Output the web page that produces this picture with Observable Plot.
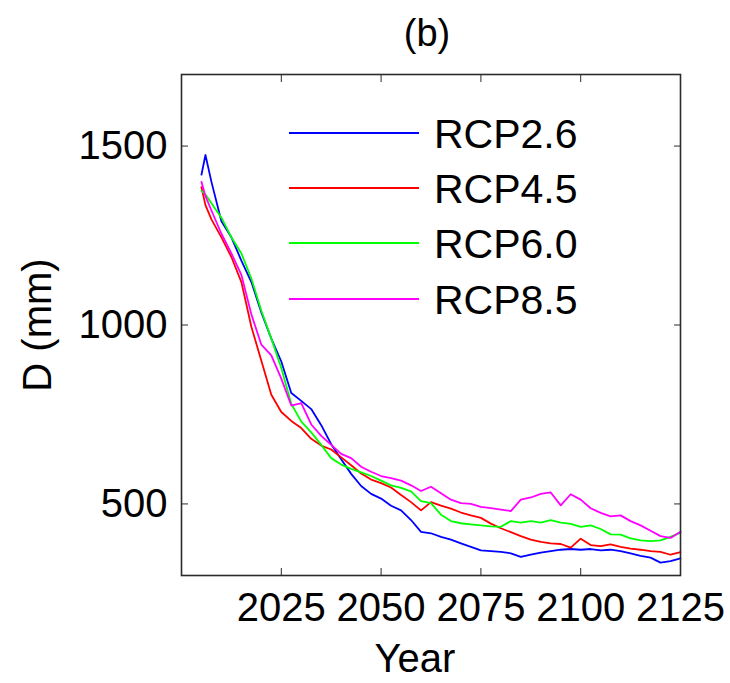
<!DOCTYPE html>
<html>
<head>
<meta charset="utf-8">
<script src="https://cdn.jsdelivr.net/npm/d3@7"></script>
<script src="https://cdn.jsdelivr.net/npm/@observablehq/plot@0.6"></script>
<style>
  body { margin: 0; background: #fff; }
  #wrap { position: relative; width: 730px; height: 683px; font-family: "Liberation Sans", Arial, sans-serif; }
  #legend { position: absolute; left: 0; top: 0; pointer-events: none; }
</style>
</head>
<body>
<div id="wrap"></div>
<script>
// ---- data ----
const years = [2005, 2006, 2007.5, 2010, 2012.5, 2015, 2017.5, 2020, 2022.5, 2025,
  2027.5, 2030, 2032.5, 2035, 2037.5, 2040, 2042.5, 2045, 2047.5, 2050,
  2052.5, 2055, 2057.5, 2060, 2062.5, 2065, 2067.5, 2070, 2072.5, 2075,
  2077.5, 2080, 2082.5, 2085, 2087.5, 2090, 2092.5, 2095, 2097.5, 2100,
  2102.5, 2105, 2107.5, 2110, 2112.5, 2115, 2117.5, 2120, 2122.5, 2125];

const rcp26 = [1420, 1475, 1400, 1290, 1245, 1180, 1120, 1035, 962, 898,
  810, 788, 765, 720, 667, 625, 584, 550, 528, 515,
  495, 482, 455, 422, 418, 408, 400, 390, 380, 370,
  368, 366, 362, 352, 358, 364, 368, 372, 374, 372,
  374, 370, 372, 368, 362, 355, 350, 336, 340, 348];

const rcp45 = [1385, 1335, 1295, 1245, 1190, 1120, 995, 900, 805, 757,
  732, 712, 682, 663, 652, 630, 608, 585, 568, 558,
  546, 525, 505, 482, 505, 495, 487, 476, 468, 461,
  445, 432, 421, 410, 400, 394, 390, 388, 378, 403,
  385, 382, 387, 380, 375, 372, 368, 366, 358, 365];

const rcp60 = [1375, 1365, 1340, 1300, 1245, 1200, 1130, 1040, 962, 880,
  780, 730, 700, 665, 628, 610, 598, 588, 578, 565,
  552, 545, 535, 508, 502, 470, 452, 446, 443, 440,
  437, 436, 452, 448, 452, 448, 455, 448, 444, 436,
  440, 430, 415, 414, 404, 398, 396, 398, 408, 420];

const rcp85 = [1400, 1360, 1320, 1255, 1200, 1140, 1030, 945, 915, 850,
  775, 782, 722, 690, 665, 640, 628, 604, 590, 578,
  572, 565, 552, 536, 548, 530, 512, 502, 500, 492,
  488, 484, 480, 512, 518, 528, 532, 496, 527, 512,
  488, 475, 465, 468, 452, 440, 425, 410, 405, 422];

const seriesNames = ["RCP2.6", "RCP4.5", "RCP6.0", "RCP8.5"];
const seriesColors = ["#0000ff", "#ff0000", "#00ff00", "#ff00ff"];
const xTicks = [2025, 2050, 2075, 2100, 2125];
const yTicks = [500, 1000, 1500];

// ---- build long table ----
const seriesValues = [rcp26, rcp45, rcp60, rcp85];
const rows = [];
seriesValues.forEach((vals, i) => {
  vals.forEach((v, j) => rows.push({year: years[j], value: v, series: seriesNames[i]}));
});

const font = '"Liberation Sans", Arial, sans-serif';
const blank = () => "";

const chart = Plot.plot({
  width: 730,
  height: 683,
  marginLeft: 181,
  marginRight: 50,
  marginTop: 74,
  marginBottom: 108,
  style: {fontFamily: font, fontSize: "40px", background: "#fff", color: "#000", overflow: "visible"},
  x: {domain: [2000, 2125]},
  y: {domain: [300, 1700]},
  color: {domain: seriesNames, range: seriesColors},
  marks: [
    Plot.line(rows, {x: "year", y: "value", stroke: "series", z: "series", strokeWidth: 1.8}),
    Plot.axisX(xTicks, {anchor: "bottom", tickSize: 0, tickPadding: 17, tickFormat: "d", label: null, fontSize: 40}),
    Plot.axisX(xTicks, {anchor: "bottom", tickSize: -7, tickFormat: blank, label: null, stroke: "#2b2b2b"}),
    Plot.axisX(xTicks, {anchor: "top", tickSize: -7, tickFormat: blank, label: null, stroke: "#2b2b2b"}),
    Plot.axisY(yTicks, {anchor: "left", tickSize: 0, tickPadding: 14, tickFormat: "d", label: null, fontSize: 40}),
    Plot.axisY(yTicks, {anchor: "left", tickSize: -7, tickFormat: blank, label: null, stroke: "#2b2b2b"}),
    Plot.axisY(yTicks, {anchor: "right", tickSize: -7, tickFormat: blank, label: null, stroke: "#2b2b2b"}),
    Plot.frame({stroke: "#2b2b2b", strokeWidth: 1.6}),
    Plot.text(["(b)"], {frameAnchor: "top", lineAnchor: "middle", dy: -41, dx: -4, fontSize: 38}),
    Plot.text(["Year"], {frameAnchor: "bottom", lineAnchor: "middle", dy: 84, dx: -16, fontSize: 40}),
    Plot.text(["D (mm)"], {frameAnchor: "left", textAnchor: "middle", lineAnchor: "middle", dx: -143, rotate: -90, fontSize: 40})
  ]
});

const wrap = document.getElementById("wrap");
wrap.appendChild(chart);

// ---- legend overlay (inside the axes, top) ----
const legendY = [133, 188, 243, 299];
const ns = "http://www.w3.org/2000/svg";
const leg = document.createElementNS(ns, "svg");
leg.setAttribute("id", "legend");
leg.setAttribute("width", 730);
leg.setAttribute("height", 683);
seriesNames.forEach((name, i) => {
  const ln = document.createElementNS(ns, "line");
  ln.setAttribute("x1", 289); ln.setAttribute("x2", 419);
  ln.setAttribute("y1", legendY[i]); ln.setAttribute("y2", legendY[i]);
  ln.setAttribute("stroke", seriesColors[i]);
  ln.setAttribute("stroke-width", 1.8);
  leg.appendChild(ln);
  const tx = document.createElementNS(ns, "text");
  tx.setAttribute("x", 434);
  tx.setAttribute("y", legendY[i]);
  tx.setAttribute("dy", "0.36em");
  tx.setAttribute("font-size", 41);
  tx.setAttribute("font-family", font);
  tx.setAttribute("fill", "#000");
  tx.textContent = name;
  leg.appendChild(tx);
});
wrap.appendChild(leg);
</script>
</body>
</html>
